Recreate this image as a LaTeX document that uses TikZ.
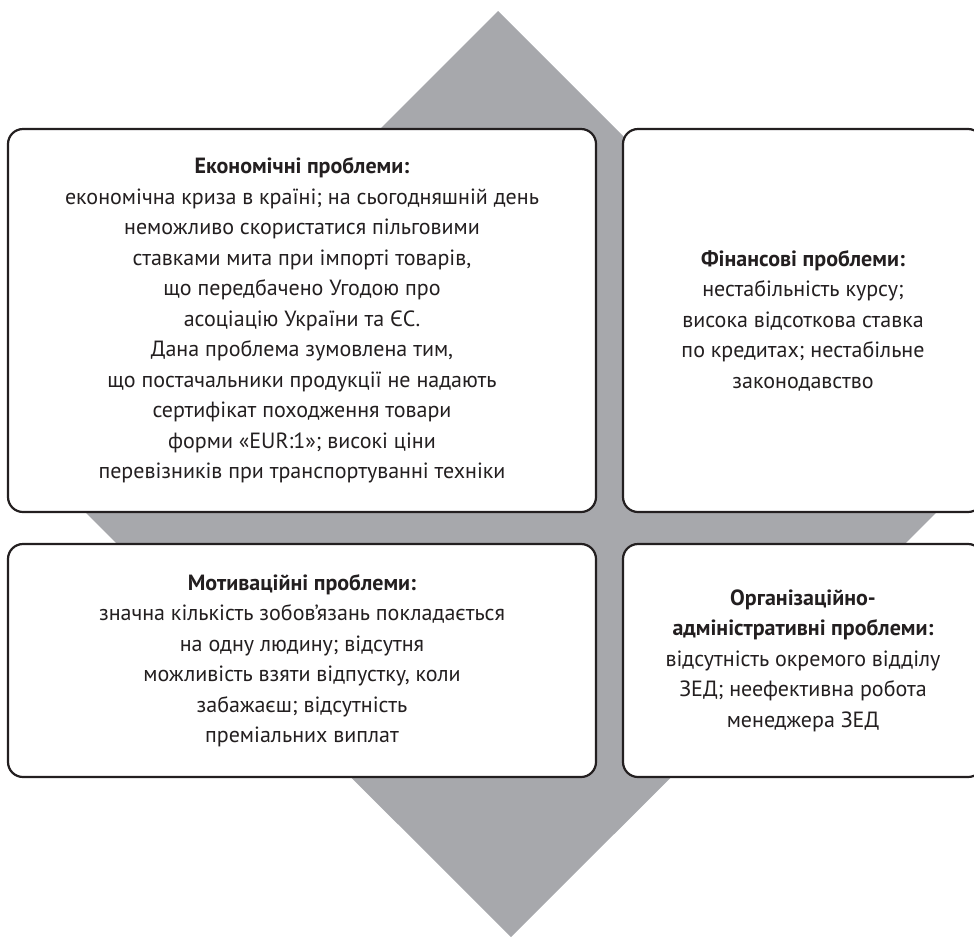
\documentclass[tikz,border=0pt]{standalone}
\usepackage{fontspec}
\setmainfont{PT Sans}
\definecolor{diamondgray}{HTML}{A7A8AC}
\definecolor{boxline}{HTML}{231F20}
\tikzset{
  probox/.style={draw=boxline, line width=2.2pt, fill=white, rounded corners=15pt,
    align=center, text=boxline, inner sep=0pt,
    font=\fontsize{22}{30.5}\selectfont},
}
\begin{document}
\begin{tikzpicture}[x=1pt,y=-1pt]
    \clip (0,0) rectangle (974,938);
    % background diamond
    \fill[diamondgray] (498,11) -- (968,481) -- (511,937) -- (41,468) -- cycle;
    % problem boxes
    \node[probox, minimum width=588pt, minimum height=383pt] (econ) at (302,320.5)
        {\textbf{Економічні проблеми:}\\
         економічна криза в країні; на сьогодняшній день\\
         неможливо скористатися пільговими\\
         ставками мита при імпорті товарів,\\
         що передбачено Угодою про\\
         асоціацію України та ЄС.\\
         Дана проблема зумовлена тим,\\
         що постачальники продукції не надають\\
         сертифікат походження товари\\
         форми «EUR:1»; високі ціни\\
         перевізників при транспортуванні техніки};
    \node[probox, minimum width=360pt, minimum height=383pt] (fin) at (803,320.5)
        {\textbf{Фінансові проблеми:}\\
         нестабільність курсу;\\
         висока відсоткова ставка\\
         по кредитах; нестабільне\\
         законодавство};
    \node[probox, minimum width=588pt, minimum height=233pt] (motiv) at (302,660.5)
        {\textbf{Мотиваційні проблеми:}\\
         значна кількість зобов’язань покладається\\
         на одну людину; відсутня\\
         можливість взяти відпустку, коли\\
         забажаєш; відсутність\\
         преміальних виплат};
    \node[probox, minimum width=360pt, minimum height=233pt] (org) at (803,660.5)
        {\textbf{Організаційно-}\\
         \textbf{адміністративні проблеми:}\\
         відсутність окремого відділу\\
         ЗЕД; неефективна робота\\
         менеджера ЗЕД};
\end{tikzpicture}
\end{document}
